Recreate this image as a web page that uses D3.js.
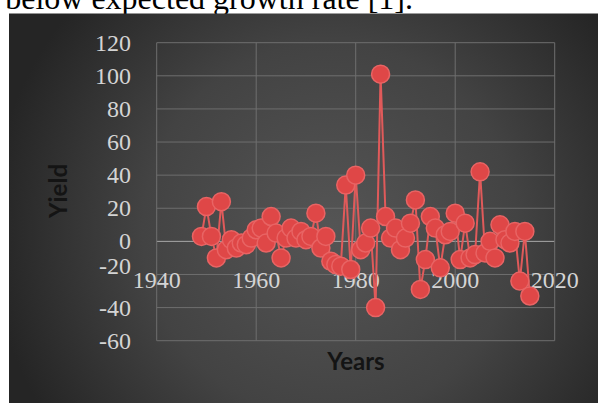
<!DOCTYPE html>
<html>
<head>
<meta charset="utf-8">
<script src="https://cdn.jsdelivr.net/npm/d3@7"></script>
<style>
  html, body { margin: 0; padding: 0; background: #fff; }
  svg { display: block; }
</style>
</head>
<body>
<svg width="598" height="403"></svg>
<script>
// values
var years = [1949, 1950, 1951, 1952, 1953, 1954, 1955, 1956, 1957, 1958,
             1959, 1960, 1961, 1962, 1963, 1964, 1965, 1966, 1967, 1968,
             1969, 1970, 1971, 1972, 1973, 1974, 1975, 1976, 1977, 1978,
             1979, 1980, 1981, 1982, 1983, 1984, 1985, 1986, 1987, 1988,
             1989, 1990, 1991, 1992, 1993, 1994, 1995, 1996, 1997, 1998,
             1999, 2000, 2001, 2002, 2003, 2004, 2005, 2006, 2007, 2008,
             2009, 2010, 2011, 2012, 2013, 2014, 2015];
var yields = [3, 21, 3, -10, 24, -5, 1, -4, -1, -2,
              2, 7, 8, -1, 15, 5, -10, 2, 8, 2,
              6, 1, 3, 17, -4, 3, -12, -14, -15, 34,
              -17, 40, -5, -1, 8, -40, 101, 15, 2, 8,
              -5, 2, 11, 25, -29, -11, 15, 8, -16, 4,
              6, 17, -11, 11, -10, -8, 42, -7, 0, -10,
              10, 1, -1, 6, -24, 6, -33];
var xTicks = [1940, 1960, 1980, 2000, 2020];
var yTicks = [-60, -40, -20, 0, 20, 40, 60, 80, 100, 120];

var data = years.map(function(d, i) { return {year: d, value: yields[i]}; });

var svg = d3.select("svg");

var x = d3.scaleLinear().domain([1940, 2020]).range([156.7, 554.7]),
    y = d3.scaleLinear().domain([-60, 120]).range([340.7, 42.7]);

// caption text above the chart (cut off by the page edge, as in the source)
svg.append("text")
    .attr("x", 413)
    .attr("y", 9)
    .attr("text-anchor", "end")
    .style("font", "32px 'Liberation Serif', 'Times New Roman', serif")
    .attr("fill", "#000")
    .text("below expected growth rate [1].");

// chart background
var defs = svg.append("defs");
var grad = defs.append("radialGradient")
    .attr("id", "bg")
    .attr("gradientUnits", "userSpaceOnUse")
    .attr("cx", 330).attr("cy", 230).attr("r", 340);
grad.append("stop").attr("offset", "0%").attr("stop-color", "#555555");
grad.append("stop").attr("offset", "55%").attr("stop-color", "#434343");
grad.append("stop").attr("offset", "100%").attr("stop-color", "#252525");

svg.append("rect")
    .attr("x", 9).attr("y", 13.5)
    .attr("width", 598 - 9).attr("height", 403 - 13.5)
    .attr("fill", "url(#bg)");

// gridlines
var g = svg.append("g");

g.selectAll(".hgrid")
    .data(yTicks)
  .enter().append("line")
    .attr("class", "hgrid")
    .attr("x1", x(1940)).attr("x2", x(2020))
    .attr("y1", function(d) { return y(d); })
    .attr("y2", function(d) { return y(d); })
    .attr("stroke", function(d) { return d === 0 ? "#a8a8a8" : "#6e6e6e"; })
    .attr("stroke-width", 1);

g.selectAll(".vgrid")
    .data(xTicks)
  .enter().append("line")
    .attr("class", "vgrid")
    .attr("y1", y(120)).attr("y2", y(-60))
    .attr("x1", function(d) { return x(d); })
    .attr("x2", function(d) { return x(d); })
    .attr("stroke", "#6e6e6e")
    .attr("stroke-width", 1);

// y tick labels
g.selectAll(".ylab")
    .data(yTicks)
  .enter().append("text")
    .attr("class", "ylab")
    .attr("x", 131)
    .attr("y", function(d) { return y(d) + (d === -20 ? -8 : 0); })
    .attr("dy", "0.33em")
    .attr("text-anchor", "end")
    .attr("fill", "#d4d4d4")
    .style("font", "24px 'Liberation Serif', 'Times New Roman', serif")
    .text(function(d) { return d; });

// x tick labels (axis crosses at 0)
g.selectAll(".xlab")
    .data(xTicks)
  .enter().append("text")
    .attr("class", "xlab")
    .attr("x", function(d) { return x(d); })
    .attr("y", 288)
    .attr("text-anchor", "middle")
    .attr("fill", "#d4d4d4")
    .style("font", "24px 'Liberation Serif', 'Times New Roman', serif")
    .text(function(d) { return d; });

// series
var line = d3.line()
    .x(function(d) { return x(d.year); })
    .y(function(d) { return y(d.value); });

g.append("path")
    .datum(data)
    .attr("d", line)
    .attr("fill", "none")
    .attr("stroke", "#e05a5a")
    .attr("stroke-width", 2);

g.selectAll(".dot")
    .data(data)
  .enter().append("circle")
    .attr("class", "dot")
    .attr("cx", function(d) { return x(d.year); })
    .attr("cy", function(d) { return y(d.value); })
    .attr("r", 9)
    .attr("fill", "#df4747")
    .attr("stroke", "#e86464")
    .attr("stroke-width", 1.5);

// axis titles
svg.append("text")
    .attr("transform", "translate(67," + 191 + ") rotate(-90)")
    .attr("text-anchor", "middle")
    .attr("fill", "#141414")
    .style("font", "bold 24px Lato, 'Open Sans', sans-serif")
    .text("Yield");

svg.append("text")
    .attr("x", 356)
    .attr("y", 370)
    .attr("text-anchor", "middle")
    .attr("fill", "#141414")
    .style("font", "bold 24px Lato, 'Open Sans', sans-serif")
    .text("Years");
</script>
</body>
</html>
